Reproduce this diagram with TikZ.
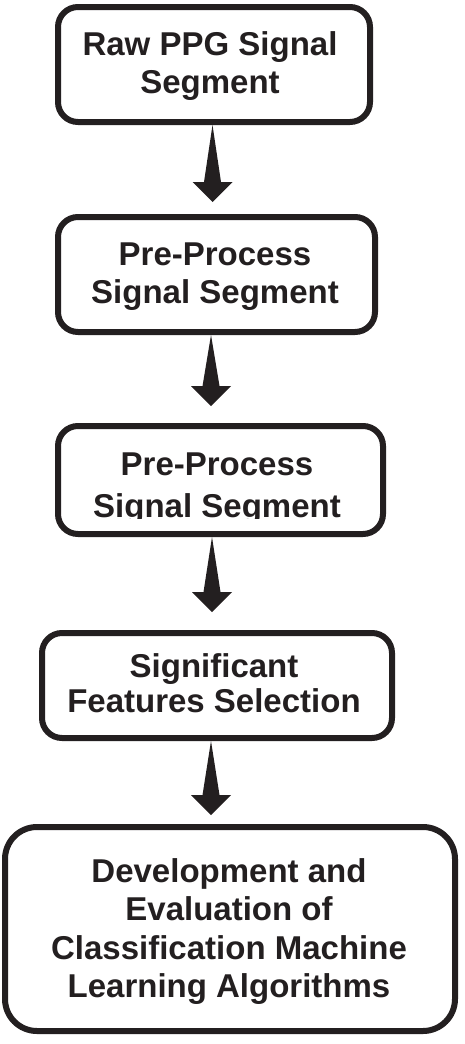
\documentclass[tikz,border=0pt]{standalone}
\usepackage{fontspec}
\setmainfont{Liberation Sans}
\usetikzlibrary{calc}
\definecolor{ink}{RGB}{35,31,32}
\tikzset{
  box/.style={draw=ink, line width=6pt, rounded corners=20pt, fill=white, inner sep=0pt},
  lbl/.style={font=\fontsize{33}{38}\selectfont\bfseries, text=ink, inner sep=0pt, anchor=base},
}
\newcommand{\fatarrow}[2]{%
  \fill[ink] (#1) -- ($(#2)+(8.5,-20)$) -- ($(#2)+(20,-20)$) -- (#2)
    -- ($(#2)+(-20,-20)$) -- ($(#2)+(-8.5,-20)$) -- cycle;}
\begin{document}
\begin{tikzpicture}[x=1pt,y=-1pt]
\useasboundingbox (0,0) rectangle (464,1044);
% boxes
\node[box, minimum width=312pt, minimum height=115pt] (b1) at (214,64.5) {};
\node[box, minimum width=317pt, minimum height=115pt] (b2) at (216.5,274.5) {};
\node[box, minimum width=325pt, minimum height=108pt] (b3) at (220.5,480) {};
\node[box, minimum width=350pt, minimum height=105pt] (b4) at (217,685.5) {};
\node[box, rounded corners=32pt, minimum width=450pt, minimum height=204pt] (b5) at (230,929) {};
% labels
\node[lbl] (t1) at (210,55) {\begin{tabular}[t]{@{}c@{}}Raw PPG Signal\\Segment\end{tabular}};
\node[lbl] (t2) at (215,265) {\begin{tabular}[t]{@{}c@{}}Pre-Process\\Signal Segment\end{tabular}};
\begin{scope}
  \clip (0,0) rectangle (464,518.5);
  \node[lbl, font=\fontsize{33}{42}\selectfont\bfseries] (t3) at (217,475) {\begin{tabular}[t]{@{}c@{}}Pre-Process\\Signal Segment\end{tabular}};
\end{scope}
\node[lbl, font=\fontsize{33}{35}\selectfont\bfseries] (t4) at (214,677) {\begin{tabular}[t]{@{}c@{}}Significant\\Features Selection\end{tabular}};
\node[lbl, font=\fontsize{33}{38.5}\selectfont\bfseries] (t5) at (229,882) {\begin{tabular}[t]{@{}c@{}}Development and\\Evaluation of\\Classification Machine\\Learning Algorithms\end{tabular}};
% arrow tips
\coordinate (a1) at (212.5,202);
\coordinate (a2) at (211,406);
\coordinate (a3) at (212,612);
\coordinate (a4) at (211,815);
\fatarrow{b1.south -| a1}{a1}
\fatarrow{b2.south -| a2}{a2}
\fatarrow{b3.south -| a3}{a3}
\fatarrow{b4.south -| a4}{a4}
\end{tikzpicture}
\end{document}
